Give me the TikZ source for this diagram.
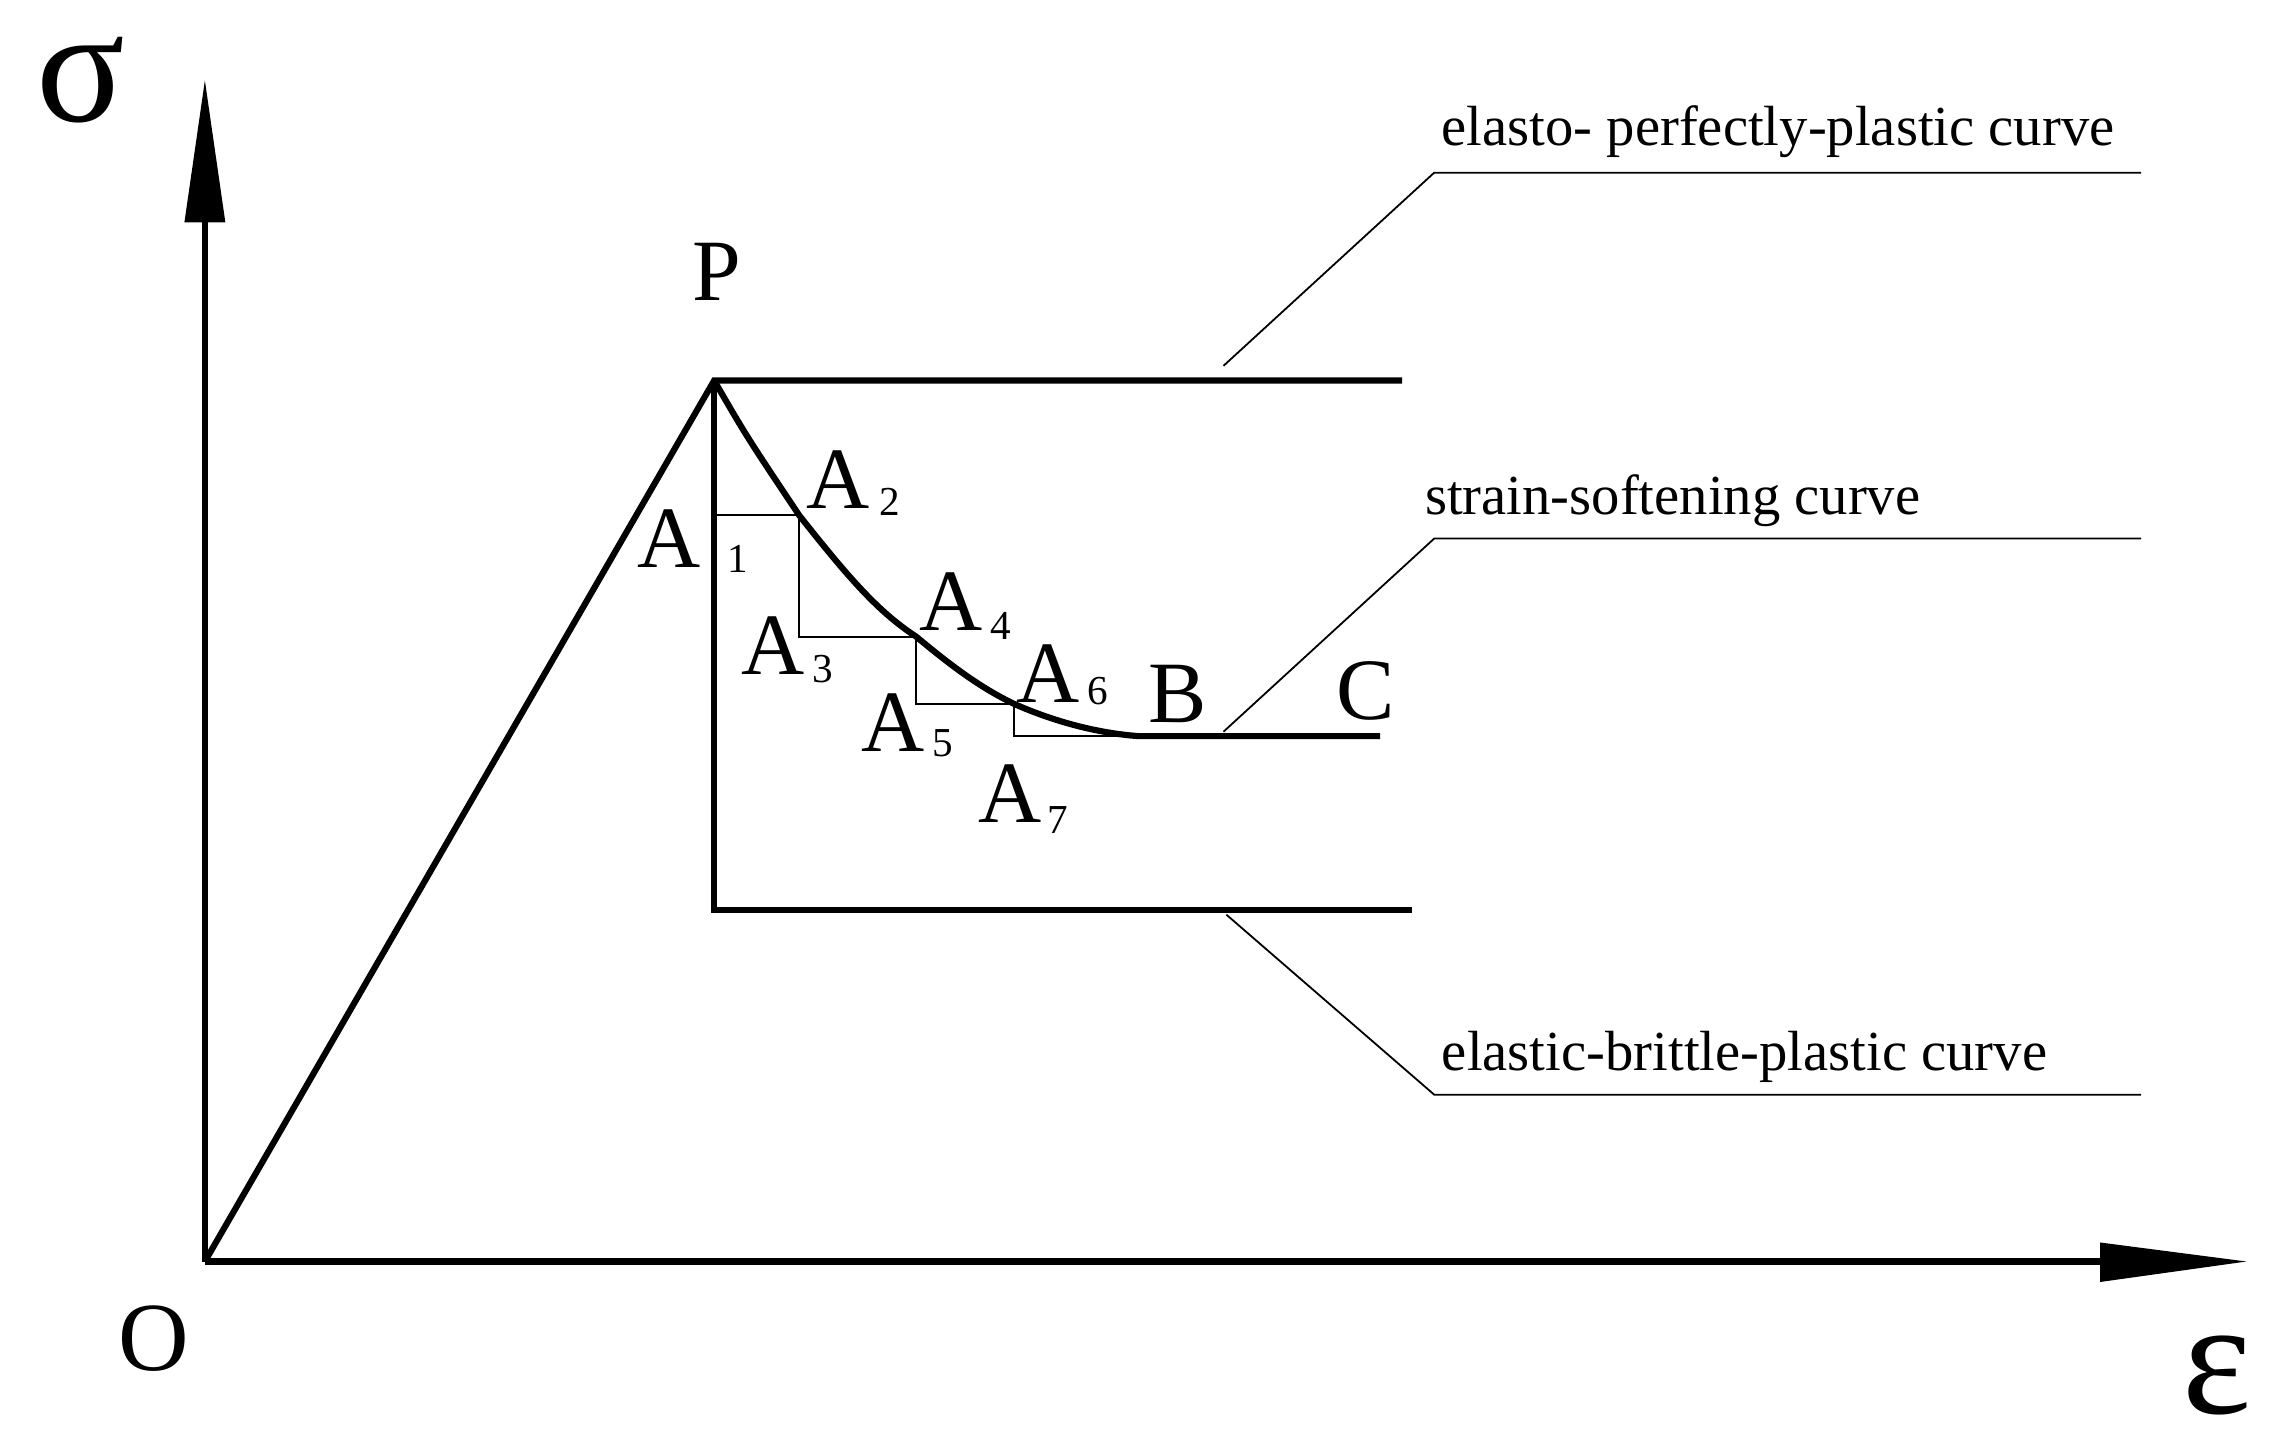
\documentclass[tikz,border=0pt]{standalone}
\usepackage{fontspec}
\setmainfont{Liberation Serif}
\begin{document}
\begin{tikzpicture}[x=0.01cm,y=-0.01cm,
  thick line/.style={line width=1.2pt},
  thin line/.style={line width=0.35pt},
  lbl/.style={font=\fontsize{17}{17}\selectfont,inner sep=0},
  sub/.style={font=\fontsize{8}{8}\selectfont,inner sep=0},
  big/.style={font=\fontsize{19}{19}\selectfont,inner sep=0},
  captext/.style={font=\fontsize{11}{11}\selectfont,inner sep=0}]
\useasboundingbox (0,0) rectangle (1560,994);
\coordinate (O) at (140,862);
\coordinate (Yt) at (140,55);
\coordinate (Xt) at (1535,862);
\coordinate (P) at (488,260);
\coordinate (A2) at (546,352);
\coordinate (A4) at (626,435);
\coordinate (A6) at (693,481);
\coordinate (B) at (778,503);
\coordinate (C) at (943,503);
% axes
\draw[thick line] (O) -- (140,150);
\fill (Yt) -- (154,152) -- (126,152) -- cycle;
\draw[thick line] (O) -- (1440,862);
\fill (Xt) -- (1435,849) -- (1435,876) -- cycle;
% curves
\draw[thick line] (O) -- (P) -- (958,260);
\draw[thick line] (P) -- (488,622) -- (965,622);
\draw[thick line] (P) .. controls (510,298) .. (A2) .. controls (580,395) and (600,418) .. (A4) .. controls (650,455) and (670,470) .. (A6) .. controls (720,493) and (750,501) .. (B) -- (C);
% steps
\draw[thin line] (488,352) -- (A2) -- (546,435) -- (A4) -- (626,481) -- (A6) -- (693,503) -- (B);
% leaders
\draw[thin line] (836,250) -- (980,118) -- (1463,118);
\draw[thin line] (836,500) -- (980,368) -- (1463,368);
\draw[thin line] (838,625) -- (980,748) -- (1463,748);
\node[captext] (t1) at (1215,90) {elasto- perfectly-plastic curve};
\node[captext] (t2) at (1143,342) {strain-softening curve};
\node[captext] (t3) at (1192,722) {elastic-brittle-plastic curve};
% labels
\node[lbl] (lA1) at (457,368) {A}; \node[sub] (s1) at (504,382) {1};
\node[lbl] (lA2) at (573,328) {A}; \node[sub] (s2) at (608,343) {2};
\node[lbl] (lA3) at (528,441) {A}; \node[sub] (s3) at (562,457) {3};
\node[lbl] (lA4) at (650,411) {A}; \node[sub] (s4) at (684,428) {4};
\node[lbl] (lA5) at (610,494) {A}; \node[sub] (s5) at (644,508) {5};
\node[lbl] (lA6) at (716,460) {A}; \node[sub] (s6) at (750,472) {6};
\node[lbl] (lA7) at (690,542) {A}; \node[sub] (s7) at (723,560) {7};
\node[lbl] (lB) at (805,474) {B};
\node[lbl] (lC) at (933,472) {C};
\node[lbl] (lP) at (490,186) {P};
\node[big] (lO) at (105,915) {O};
\node[font=\fontsize{32}{32}\selectfont,inner sep=0] (sig) at (55,55) {σ};
\node[font=\fontsize{32}{32}\selectfont,inner sep=0] (eps) at (1515,940) {ε};
\end{tikzpicture}
\end{document}
